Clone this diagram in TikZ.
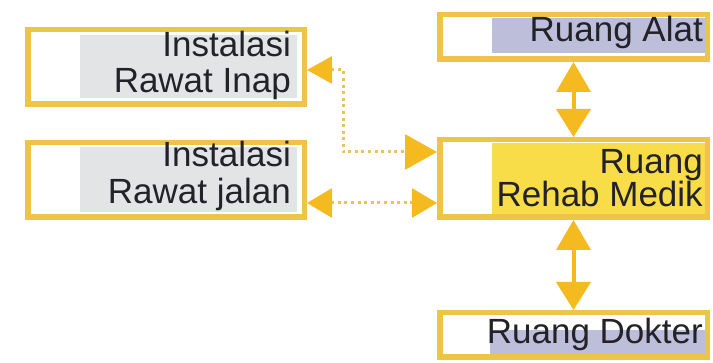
\documentclass[tikz,border=0pt]{standalone}
\usepackage{fontspec}
\setmainfont{Liberation Sans}
\usetikzlibrary{arrows.meta}

\definecolor{frame}{RGB}{238,196,72}
\definecolor{tipc}{RGB}{245,186,32}
\definecolor{dotc}{RGB}{236,194,90}
\definecolor{greyfill}{RGB}{226,228,230}
\definecolor{lavfill}{RGB}{188,190,218}
\definecolor{yelfill}{RGB}{248,220,72}
\definecolor{ink}{RGB}{34,34,40}

\begin{document}
\begin{tikzpicture}[x=1pt,y=-1pt,
  box/.style={draw=frame, line width=5.5pt, rectangle, inner sep=0pt},
  label/.style={inner sep=0pt, anchor=base east, text=ink,
    font=\fontsize{35}{37}\selectfont},
  solidlink/.style={draw=tipc, line width=4pt,
    {Triangle[length=30pt,width=34pt]}-{Triangle[length=28pt,width=34pt]}},
  dotlink/.style={draw=dotc, line width=3pt, dash pattern=on 3pt off 3.6pt}
]
\useasboundingbox (0,0) rectangle (713,363);
\fill[white] (0,0) rectangle (713,363);

% shaded panels behind the texts
\fill[greyfill] (80,35) rectangle (297,98);
\fill[greyfill] (80,147) rectangle (297,212);
\fill[lavfill] (492,18) rectangle (706,53);
\fill[yelfill] (492,143) rectangle (706,216);
\fill[lavfill] (490,330) rectangle (706,354);

% frames
\node[box, minimum width=276.5pt, minimum height=74.5pt] (inap) at (166,67) {};
\node[box, minimum width=276.5pt, minimum height=74.5pt] (jalan) at (166,180) {};
\node[box, minimum width=267.5pt, minimum height=44.5pt] (alat) at (573.5,37) {};
\node[box, minimum width=267.5pt, minimum height=77.5pt] (rehab) at (573.5,178.5) {};
\node[box, minimum width=267.5pt, minimum height=44.5pt] (dokter) at (573.5,335) {};

% texts
\node[label] (inapA) at (291,57) {Instalasi};
\node[label] (inapB) at (291,93) {Rawat Inap};
\node[label] (jalanA) at (291,167) {Instalasi};
\node[label] (jalanB) at (291,204) {Rawat jalan};
\node[label] (alatT) at (703,42) {Ruang Alat};
\node[label] (rehabA) at (703,174) {Ruang};
\node[label] (rehabB) at (703,207) {Rehab Medik};
\node[label] (dokterT) at (703,344) {Ruang Dokter};

% solid links
\draw[solidlink] (alat.south) -- (rehab.north);
\draw[solidlink] (rehab.south) -- (dokter.north);

% dotted links
\coordinate (bend) at (343,152);
\draw[dotlink, arrows={Triangle[color=tipc,length=25pt,width=27pt]-Triangle[color=tipc,length=32pt,width=35pt]}]
  (inap.east |- 0,70) -| (bend) -- (rehab.west |- bend);
\draw[dotlink, arrows={Triangle[color=tipc,length=25pt,width=29pt]-Triangle[color=tipc,length=25pt,width=29pt]}]
  (jalan.east |- 0,203) -- (rehab.west |- 0,203);
\end{tikzpicture}
\end{document}
